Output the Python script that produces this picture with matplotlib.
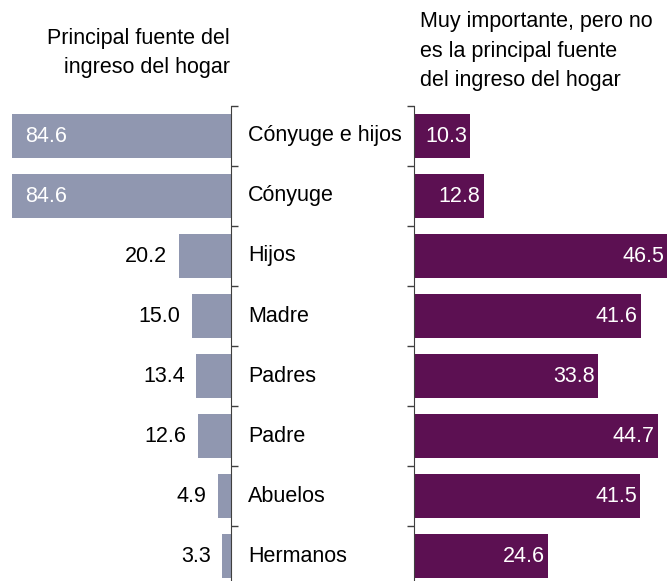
import numpy as np
import matplotlib.pyplot as plt

plt.rcParams['font.family'] = ['Liberation Sans', 'DejaVu Sans']

categorias = ['Cónyuge e hijos', 'Cónyuge', 'Hijos', 'Madre', 'Padres', 'Padre', 'Abuelos', 'Hermanos']
principal = [84.6, 84.6, 20.2, 15.0, 13.4, 12.6, 4.9, 3.3]
importante = [10.3, 12.8, 46.5, 41.6, 33.8, 44.7, 41.5, 24.6]

W, H = 667, 581
fig = plt.figure(figsize=(W / 100, H / 100), dpi=100)

top = 1 - 106 / H
bot = 1 - 586 / H
axl = fig.add_axes([0, bot, 231 / W, top - bot])
axr = fig.add_axes([414 / W, bot, (W - 414) / W, top - bot])

y = np.arange(len(categorias))
gris = '#9097b0'
morado = '#5c1052'
fs = 15.5

axl.barh(y, principal, height=0.73, color=gris)
axl.set_xlim(89.2, 0)
axr.barh(y, importante, height=0.73, color=morado)
axr.set_xlim(0, 46.4)

for ax in (axl, axr):
    ax.set_ylim(len(categorias) - 0.5, -0.5)
    for s in ax.spines.values():
        s.set_visible(False)
    ax.set_xticks([])
    ax.set_yticks([])
    ax.set_yticks(np.arange(-0.5, len(categorias)), minor=True)
    ax.tick_params(which='minor', length=5, width=1, color='#404040', labelleft=False, labelright=False)
    ax.patch.set_visible(False)

axl.spines['right'].set_visible(True)
axl.spines['right'].set_color('#404040')
axl.yaxis.set_ticks_position('right')
axl.tick_params(which='minor', direction='out')
axr.spines['left'].set_visible(True)
axr.spines['left'].set_color('#404040')
axr.yaxis.set_ticks_position('left')
axr.tick_params(which='minor', direction='out')

for i, v in enumerate(principal):
    if v > 50:
        axl.text(v - 5, i, f'{v:.1f}', ha='left', va='center', color='white', fontsize=fs)
    else:
        axl.text(v + 4.5, i, f'{v:.1f}', ha='right', va='center', color='black', fontsize=fs)

for i, v in enumerate(importante):
    axr.text(v - 0.6, i, f'{v:.1f}', ha='right', va='center', color='white', fontsize=fs)

for i, c in enumerate(categorias):
    axr.text(-166 / 5.46, i, c, ha='left', va='center', color='black', fontsize=fs, clip_on=False)

fig.text(230 / W, 1 - 53 / H, 'Principal fuente del\ningreso del hogar', ha='right', va='center',
         fontsize=fs, linespacing=1.55)
fig.text(420 / W, 1 - 51 / H, 'Muy importante, pero no\nes la principal fuente\ndel ingreso del hogar',
         ha='left', va='center', fontsize=fs, linespacing=1.55)

fig.savefig('out.png', dpi=100)
